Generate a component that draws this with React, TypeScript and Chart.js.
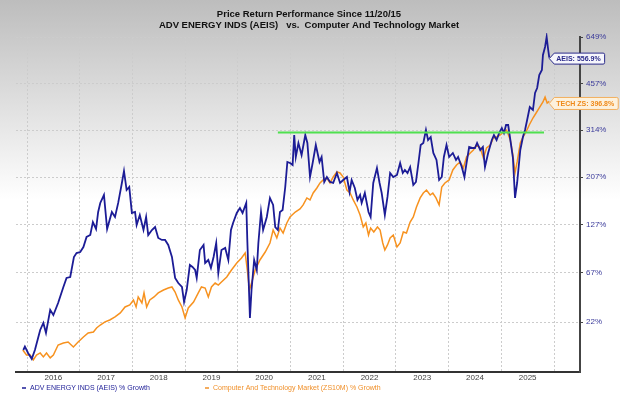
import { useEffect, useRef } from 'react';
import { Chart, registerables } from 'chart.js';

Chart.register(...registerables);

const TITLE_LINE_1 = 'Price Return Performance Since 11/20/15';
const TITLE_LINE_2 = 'ADV ENERGY INDS (AEIS)   vs.  Computer And Technology Market';
const AEIS_LEGEND = 'ADV ENERGY INDS (AEIS) % Growth';
const TECH_LEGEND = 'Computer And Technology Market (ZS10M) % Growth';
const AEIS_TAG = 'AEIS: 556.9%';
const TECH_TAG = 'TECH ZS: 396.8%';

const YEAR_TICKS = [2016, 2017, 2018, 2019, 2020, 2021, 2022, 2023, 2024, 2025, 2026];
const PCT_TICKS = [22, 67, 127, 207, 314, 457, 649];
const X_MIN = 2015.791;
const X_MAX = 2026.493;
const Y_MIN_PCT = -11.25;
const Y_MAX_PCT = 649;

const AEIS_DATES = [
  2015.93, 2015.96, 2016.02, 2016.09, 2016.15, 2016.25, 2016.31, 2016.36, 2016.44, 2016.5,
  2016.59, 2016.69, 2016.75, 2016.82, 2016.89, 2016.94, 2017.01, 2017.07, 2017.13, 2017.2,
  2017.25, 2017.31, 2017.35, 2017.39, 2017.46, 2017.52, 2017.61, 2017.67, 2017.73, 2017.8,
  2017.84, 2017.89, 2017.94, 2017.99, 2018.05, 2018.08, 2018.14, 2018.21, 2018.26, 2018.3,
  2018.37, 2018.43, 2018.49, 2018.56, 2018.62, 2018.68, 2018.75, 2018.81, 2018.87, 2018.94,
  2018.98, 2019.03, 2019.09, 2019.14, 2019.19, 2019.22, 2019.28, 2019.35, 2019.38, 2019.44,
  2019.49, 2019.54, 2019.59, 2019.63, 2019.69, 2019.76, 2019.82, 2019.87, 2019.91, 2019.98,
  2020.04, 2020.09, 2020.16, 2020.18, 2020.23, 2020.26, 2020.31, 2020.36, 2020.39, 2020.44,
  2020.48, 2020.55, 2020.61, 2020.67, 2020.71, 2020.76, 2020.8, 2020.85, 2020.9, 2020.94,
  2020.99, 2021.04, 2021.07, 2021.1, 2021.15, 2021.21, 2021.28, 2021.32, 2021.37, 2021.42,
  2021.48, 2021.55, 2021.59, 2021.64, 2021.69, 2021.75, 2021.81, 2021.88, 2021.94, 2022.0,
  2022.07, 2022.12, 2022.16, 2022.22, 2022.27, 2022.32, 2022.35, 2022.41, 2022.48, 2022.52,
  2022.57, 2022.64, 2022.69, 2022.73, 2022.79, 2022.84, 2022.89, 2022.95, 2023.02, 2023.08,
  2023.13, 2023.17, 2023.22, 2023.27, 2023.33, 2023.38, 2023.43, 2023.47, 2023.52, 2023.57,
  2023.61, 2023.66, 2023.71, 2023.77, 2023.82, 2023.87, 2023.91, 2023.96, 2024.01, 2024.08,
  2024.14, 2024.18, 2024.25, 2024.3, 2024.34, 2024.39, 2024.46, 2024.5, 2024.54, 2024.6,
  2024.65, 2024.69, 2024.75, 2024.82, 2024.86, 2024.91, 2024.96, 2025.01, 2025.05, 2025.09,
  2025.13, 2025.18, 2025.22, 2025.26, 2025.3, 2025.36, 2025.41, 2025.45, 2025.49, 2025.54,
  2025.6, 2025.64, 2025.68, 2025.72, 2025.77, 2025.79, 2025.83, 2025.86, 2025.89, 2025.91,
];

const AEIS_GROWTH = [
  2.1, 4.3, 0.2, -3.5, 2.1, 16.0, 21.3, 13.8, 31.8, 27.6,
  37.7, 52.5, 61.5, 62.5, 84.6, 89.3, 90.5, 96.7, 109.7, 112.3,
  130.6, 120.6, 145.8, 160.4, 173.9, 120.6, 145.8, 138.1, 160.4, 195.7,
  219.2, 182.7, 188.2, 144.3, 145.8, 126.3, 141.2, 119.2, 138.1, 112.3,
  119.2, 123.4, 108.4, 105.7, 105.7, 99.3, 84.6, 61.5, 56.4, 52.5,
  38.6, 49.6, 75.4, 73.2, 69.9, 61.5, 93.0, 99.3, 77.7, 81.1,
  72.1, 84.6, 101.8, 66.7, 93.0, 95.5, 81.1, 119.2, 129.2, 144.3,
  152.2, 144.3, 160.4, 105.7, 25.2, 49.6, 81.1, 69.9, 101.8, 145.8,
  119.2, 138.1, 168.8, 157.1, 123.4, 119.2, 145.8, 149.0, 188.2, 238.0,
  235.8, 231.6, 301.3, 248.9, 281.4, 253.3, 301.3, 281.4, 207.2, 235.8,
  276.6, 238.0, 248.9, 197.6, 207.2, 197.6, 195.7, 215.1, 195.7, 201.4,
  207.2, 179.2, 201.4, 186.4, 165.4, 173.9, 160.4, 177.4, 145.8, 138.1,
  195.7, 225.3, 195.7, 177.4, 141.2, 170.5, 215.1, 207.2, 211.1, 235.8,
  215.1, 221.2, 215.1, 227.4, 191.9, 197.6, 238.0, 276.6, 281.4, 314.3,
  288.8, 296.3, 257.9, 242.3, 201.4, 207.2, 248.9, 276.6, 248.9, 257.9,
  242.3, 248.9, 227.4, 207.2, 235.8, 271.8, 269.4, 269.4, 281.4, 264.8,
  271.8, 227.4, 257.9, 288.8, 301.3, 288.8, 306.5, 319.6, 306.5, 327.7,
  327.7, 281.4, 246.7, 168.8, 195.7, 264.8, 296.3, 314.3, 341.6, 379.7,
  370.6, 424.4, 441.3, 488.1, 507.1, 567.9, 602.8, 649.0, 589.5, 556.9,
];

const TECH_DATES = [
  2015.92, 2015.99, 2016.06, 2016.12, 2016.18, 2016.25, 2016.31, 2016.37, 2016.44, 2016.5,
  2016.59, 2016.69, 2016.78, 2016.88, 2016.97, 2017.07, 2017.16, 2017.26, 2017.32, 2017.39,
  2017.48, 2017.57, 2017.67, 2017.77, 2017.86, 2017.95, 2018.02, 2018.07, 2018.11, 2018.18,
  2018.22, 2018.27, 2018.33, 2018.41, 2018.49, 2018.59, 2018.68, 2018.75, 2018.81, 2018.87,
  2018.94, 2019.0, 2019.06, 2019.16, 2019.25, 2019.31, 2019.38, 2019.44, 2019.5, 2019.57,
  2019.63, 2019.69, 2019.79, 2019.88, 2019.98, 2020.07, 2020.14, 2020.18, 2020.22, 2020.26,
  2020.33, 2020.42, 2020.52, 2020.61, 2020.67, 2020.74, 2020.8, 2020.86, 2020.93, 2020.99,
  2021.09, 2021.18, 2021.24, 2021.31, 2021.37, 2021.43, 2021.5, 2021.56, 2021.62, 2021.69,
  2021.75, 2021.81, 2021.88, 2021.94, 2022.0, 2022.07, 2022.13, 2022.19, 2022.26, 2022.32,
  2022.38, 2022.43, 2022.48, 2022.52, 2022.58, 2022.65, 2022.7, 2022.75, 2022.79, 2022.84,
  2022.89, 2022.95, 2023.02, 2023.08, 2023.14, 2023.2, 2023.27, 2023.33, 2023.39, 2023.46,
  2023.52, 2023.58, 2023.65, 2023.7, 2023.76, 2023.82, 2023.87, 2023.93, 2024.01, 2024.08,
  2024.15, 2024.22, 2024.28, 2024.34, 2024.41, 2024.47, 2024.53, 2024.6, 2024.66, 2024.72,
  2024.79, 2024.85, 2024.91, 2024.98, 2025.04, 2025.1, 2025.17, 2025.22, 2025.26, 2025.3,
  2025.36, 2025.41, 2025.47, 2025.53, 2025.6, 2025.66, 2025.72, 2025.79, 2025.83, 2025.87,
  2025.91,
];

const TECH_GROWTH = [
  2.1, -1.1, -1.1, -4.1, -1.1, 0.2, -2.3, 0.2, -2.9, -1.1,
  5.4, 6.7, 7.4, 4.1, 7.4, 10.9, 13.8, 14.5, 17.5, 19.7,
  22.1, 23.6, 26.0, 29.3, 34.3, 36.0, 40.4, 34.3, 43.1, 37.7,
  46.8, 34.3, 40.4, 43.1, 46.8, 49.6, 51.5, 52.5, 47.7, 40.4,
  34.3, 25.2, 33.4, 38.6, 46.8, 52.5, 51.5, 43.1, 52.5, 56.4,
  54.4, 57.4, 62.5, 69.9, 77.7, 83.4, 89.3, 69.9, 49.6, 56.4,
  69.9, 81.1, 90.5, 101.8, 119.2, 108.4, 122.0, 115.0, 129.2, 138.1,
  145.8, 150.6, 157.1, 168.8, 165.4, 177.4, 186.4, 195.7, 201.4, 205.2,
  195.7, 207.2, 217.1, 215.1, 207.2, 182.7, 177.4, 165.4, 153.8, 141.2,
  123.4, 129.2, 112.3, 122.0, 116.4, 123.4, 119.2, 101.8, 93.0, 99.3,
  108.4, 112.3, 96.7, 101.8, 116.4, 115.0, 130.6, 138.1, 153.8, 168.8,
  177.4, 182.7, 173.9, 177.4, 168.8, 157.1, 188.2, 195.7, 201.4, 221.2,
  231.6, 238.0, 225.3, 248.9, 257.9, 264.8, 276.6, 269.4, 246.7, 269.4,
  276.6, 293.8, 296.3, 301.3, 309.1, 314.3, 288.8, 253.3, 215.1, 238.0,
  281.4, 296.3, 309.1, 327.7, 347.2, 361.7, 376.7, 395.2, 411.2, 392.0,
  396.8,
];

const RESISTANCE_DATES = [2020.76, 2025.81];
const RESISTANCE_GROWTH = [308, 308];

const AEIS_COLOR = '#1c1c96';
const TECH_COLOR = '#f7921f';
const GREEN = '#4fe04f';
const FONT = '"Liberation Sans", Arial, sans-serif';

const toRatio = (p: number) => 1 + p / 100;
const pairs = (xs: number[], ys: number[]) => xs.map((x, i) => ({ x, y: toRatio(ys[i]) }));

const backgroundPlugin = {
  id: 'bgGradient',
  beforeDraw(chart: any) {
    const { ctx, width, height } = chart;
    const g = ctx.createLinearGradient(0, 0, 0, 200);
    g.addColorStop(0, '#bdbdbd');
    g.addColorStop(1, '#ffffff');
    ctx.save();
    ctx.fillStyle = '#ffffff';
    ctx.fillRect(0, 0, width, height);
    ctx.fillStyle = g;
    ctx.fillRect(0, 0, width, 200);
    ctx.restore();
  },
};

const textPlugin = {
  id: 'titleLegend',
  afterDraw(chart: any) {
    const { ctx } = chart;
    ctx.save();
    ctx.textBaseline = 'middle';
    ctx.textAlign = 'center';
    ctx.fillStyle = '#111111';
    ctx.font = `bold 9.5px ${FONT}`;
    ctx.fillText(TITLE_LINE_1, 309, 14.5);
    ctx.fillText(TITLE_LINE_2, 309, 25.5);

    ctx.textAlign = 'left';
    ctx.font = `7px ${FONT}`;
    const items = [
      { text: AEIS_LEGEND, color: AEIS_COLOR, x: 22 },
      { text: TECH_LEGEND, color: '#f0902a', x: 205 },
    ];
    items.forEach((it) => {
      ctx.strokeStyle = it.color;
      ctx.lineWidth = 1.5;
      ctx.beginPath();
      ctx.moveTo(it.x, 388);
      ctx.lineTo(it.x + 4, 388);
      ctx.stroke();
      ctx.fillStyle = it.color;
      ctx.fillText(it.text, it.x + 8, 388.5);
    });
    ctx.restore();
  },
};

const tagPlugin = {
  id: 'endTags',
  afterDatasetsDraw(chart: any) {
    const { ctx } = chart;
    const tags = [
      { ds: 1, text: AEIS_TAG, stroke: '#2a2a8a', fill: '#f6f6fc', color: '#2a2a8a', h: 11, dy: 1 },
      { ds: 2, text: TECH_TAG, stroke: '#f2b060', fill: '#fdf1dc', color: '#ef8a1a', h: 12, dy: 2 },
    ];
    ctx.save();
    ctx.font = `bold 7px ${FONT}`;
    tags.forEach((t) => {
      const pts = chart.getDatasetMeta(t.ds).data;
      const last = pts[pts.length - 1];
      const px = last.x;
      const cy = last.y + t.dy;
      const tw = ctx.measureText(t.text).width;
      const right = px + 7 + tw + 4;
      const top = cy - t.h / 2;
      const bottom = cy + t.h / 2;
      ctx.beginPath();
      ctx.moveTo(px, cy);
      ctx.lineTo(px + 5, top);
      ctx.lineTo(right - 1.5, top);
      ctx.quadraticCurveTo(right, top, right, top + 1.5);
      ctx.lineTo(right, bottom - 1.5);
      ctx.quadraticCurveTo(right, bottom, right - 1.5, bottom);
      ctx.lineTo(px + 5, bottom);
      ctx.closePath();
      ctx.fillStyle = t.fill;
      ctx.fill();
      ctx.strokeStyle = t.stroke;
      ctx.lineWidth = 1;
      ctx.stroke();
      ctx.fillStyle = t.color;
      ctx.textAlign = 'left';
      ctx.textBaseline = 'middle';
      ctx.fillText(t.text, px + 7, cy + 0.5);
    });
    ctx.restore();
  },
};

export default function App() {
  const ref = useRef<HTMLCanvasElement | null>(null);

  useEffect(() => {
    if (!ref.current) return;
    const chart = new Chart(ref.current, {
      type: 'line',
      data: {
        datasets: [
          {
            label: 'Resistance',
            data: pairs(RESISTANCE_DATES, RESISTANCE_GROWTH),
            borderColor: GREEN,
            borderWidth: 2,
            pointRadius: 0,
          },
          {
            label: AEIS_LEGEND,
            data: pairs(AEIS_DATES, AEIS_GROWTH),
            borderColor: AEIS_COLOR,
            borderWidth: 1.8,
            pointRadius: 0,
            tension: 0,
            clip: 4,
          },
          {
            label: TECH_LEGEND,
            data: pairs(TECH_DATES, TECH_GROWTH),
            borderColor: TECH_COLOR,
            borderWidth: 1.5,
            pointRadius: 0,
            tension: 0,
          },
        ],
      },
      options: {
        responsive: false,
        animation: false,
        events: [],
        layout: { padding: { top: 37, left: 16, right: 0, bottom: 0 } },
        plugins: {
          legend: { display: false },
          title: { display: false },
          tooltip: { enabled: false },
        },
        scales: {
          x: {
            type: 'linear',
            min: X_MIN,
            max: X_MAX,
            bounds: 'data',
            afterBuildTicks: (scale: any) => {
              scale.ticks = YEAR_TICKS.map((v) => ({ value: v }));
            },
            afterFit: (scale: any) => {
              scale.height = 25;
            },
            ticks: {
              autoSkip: false,
              maxRotation: 0,
              minRotation: 0,
              padding: 1,
              labelOffset: 26.35,
              color: '#444444',
              font: { family: FONT, size: 8 },
              callback: (v: any) => (v === YEAR_TICKS[YEAR_TICKS.length - 1] ? '' : String(v)),
            },
            grid: { color: '#cccccc', lineWidth: 1, drawTicks: false },
            border: { display: true, color: '#333333', width: 2, dash: [2, 2] },
          },
          y: {
            type: 'logarithmic',
            position: 'right',
            min: toRatio(Y_MIN_PCT),
            max: toRatio(Y_MAX_PCT),
            bounds: 'data',
            afterBuildTicks: (scale: any) => {
              scale.ticks = PCT_TICKS.map((p) => ({ value: toRatio(p) }));
            },
            afterFit: (scale: any) => {
              scale.width = 40;
            },
            ticks: {
              padding: 3,
              color: '#3a3a9a',
              font: { family: FONT, size: 8 },
              callback: (v: any) => `${Math.round((Number(v) - 1) * 100)}%`,
            },
            grid: {
              color: '#cccccc',
              lineWidth: 1,
              drawTicks: true,
              tickLength: 3,
              tickColor: '#444444',
              tickWidth: 1,
            },
            border: { display: true, color: '#444444', width: 2, dash: [2, 2] },
          },
        },
      },
      plugins: [backgroundPlugin, tagPlugin, textPlugin],
    } as any);
    return () => chart.destroy();
  }, []);

  return (
    <div style={{ position: 'fixed', left: 0, top: 0, width: 620, height: 397 }}>
      <canvas ref={ref} width={620} height={397} style={{ display: 'block', width: 620, height: 397 }} />
    </div>
  );
}
